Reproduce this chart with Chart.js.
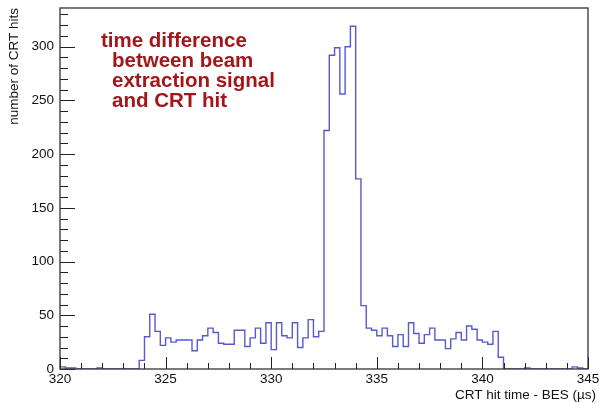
<!DOCTYPE html>
<html><head><meta charset="utf-8">
<script src="https://cdn.jsdelivr.net/npm/chart.js@4"></script>
<style>html,body{margin:0;padding:0;background:#fff;}#wrap{width:603px;height:403px;position:relative;}</style>
</head><body><div id="wrap"><canvas id="c" width="603" height="403"></canvas></div>
<script>
// Histogram: 100 bins of 0.25 us from 320 to 345
const binLow = 320;
const binWidth = 0.25;
const counts = [
  2, 1, 1, 0, 0, 0, 0, 1, 0, 0,
  0, 0, 0, 0, 0, 8, 30, 51, 35, 22,
  29, 25, 27, 27, 27, 17, 27, 31, 38, 34,
  24, 23, 23, 36, 36, 21, 29, 38, 24, 43,
  18, 43, 31, 29, 43, 20, 29, 46, 30, 35,
  222, 292, 299, 256, 300, 319, 177, 59, 38, 36,
  31, 38, 31, 21, 32, 21, 43, 33, 24, 32,
  38, 27, 27, 19, 28, 34, 27, 40, 37, 27,
  25, 23, 35, 11, 0, 0, 0, 0, 1, 0,
  0, 0, 0, 0, 0, 0, 0, 2, 1, 0
];
const xTickValues = [320, 325, 330, 335, 340, 345];
const yTickValues = [0, 50, 100, 150, 200, 250, 300];
const xMin = 320, xMax = 345, yMin = 0, yMax = 336;
const xTitle = 'CRT hit time - BES (\u00b5s)';
const yTitle = 'number of CRT hits';
const noteLines = ['time difference', 'between beam', 'extraction signal', 'and CRT hit'];

const points = counts.map((v, i) => ({x: binLow + i * binWidth, y: v}));
points.push({x: binLow + counts.length * binWidth, y: counts[counts.length - 1]});

const FONT = '"Liberation Sans", Arial, Helvetica, sans-serif';

const rootStyle = {
  id: 'rootStyle',
  afterDatasetsDraw(chart) {
    const ctx = chart.ctx;
    const a = chart.chartArea;
    const xs = chart.scales.x, ys = chart.scales.y;
    ctx.save();
    ctx.strokeStyle = '#222';
    ctx.lineWidth = 1;
    // y ticks (inward)
    for (let v = yMin; v <= yMax; v += 10) {
      const p = Math.round(ys.getPixelForValue(v)) + 0.5;
      const len = (v % 50 === 0) ? 15 : 8;
      ctx.beginPath(); ctx.moveTo(a.left, p); ctx.lineTo(a.left + len, p); ctx.stroke();
    }
    // x ticks (inward)
    for (let v = xMin; v <= xMax; v += 1) {
      const p = Math.round(xs.getPixelForValue(v)) + 0.5;
      const len = (v % 5 === 0) ? 12 : 6;
      ctx.beginPath(); ctx.moveTo(p, a.bottom); ctx.lineTo(p, a.bottom - len); ctx.stroke();
    }
    // frame
    ctx.lineWidth = 1.3;
    ctx.strokeStyle = '#333';
    ctx.strokeRect(a.left, a.top, a.right - a.left, a.bottom - a.top);
    // x title
    ctx.fillStyle = '#111';
    ctx.font = '13.5px ' + FONT;
    ctx.textAlign = 'right';
    ctx.textBaseline = 'middle';
    ctx.fillText(xTitle, 596, 395);
    // annotation
    ctx.fillStyle = '#a3161a';
    ctx.font = 'bold 20.5px ' + FONT;
    ctx.textAlign = 'left';
    ctx.textBaseline = 'alphabetic';
    const xs0 = [101, 112, 112, 112];
    noteLines.forEach((t, i) => ctx.fillText(t, xs0[i], 47 + i * 20));
    ctx.restore();
  }
};

new Chart(document.getElementById('c'), {
  type: 'line',
  data: {
    datasets: [{
      data: points,
      stepped: 'before',
      borderColor: 'rgb(88,88,208)',
      borderWidth: 1.4,
      pointRadius: 0,
      fill: false,
      tension: 0
    }]
  },
  options: {
    responsive: false,
    animation: false,
    devicePixelRatio: 1,
    layout: {padding: {top: 8, right: 15, left: 0, bottom: 0}},
    plugins: {legend: {display: false}, tooltip: {enabled: false}},
    scales: {
      x: {
        type: 'linear', min: xMin, max: xMax,
        afterBuildTicks: s => { s.ticks = xTickValues.map(v => ({value: v})); },
        afterFit: s => { s.height = 34; s.paddingLeft = 0; s.paddingRight = 0; },
        grid: {display: false, drawTicks: false},
        border: {display: false},
        ticks: {color: '#111', font: {family: FONT, size: 13.5}, padding: 2, maxRotation: 0, autoSkip: false}
      },
      y: {
        type: 'linear', min: yMin, max: yMax,
        afterBuildTicks: s => { s.ticks = yTickValues.map(v => ({value: v})); },
        afterFit: s => { s.width = 60; s.paddingTop = 0; s.paddingBottom = 0; },
        grid: {display: false, drawTicks: false},
        border: {display: false},
        ticks: {color: '#111', font: {family: FONT, size: 13.5}, padding: 6},
        title: {display: true, text: yTitle, align: 'end', color: '#111',
                font: {family: FONT, size: 13.5}, padding: {top: 6, bottom: 0}}
      }
    }
  },
  plugins: [rootStyle]
});
</script>
</body></html>
